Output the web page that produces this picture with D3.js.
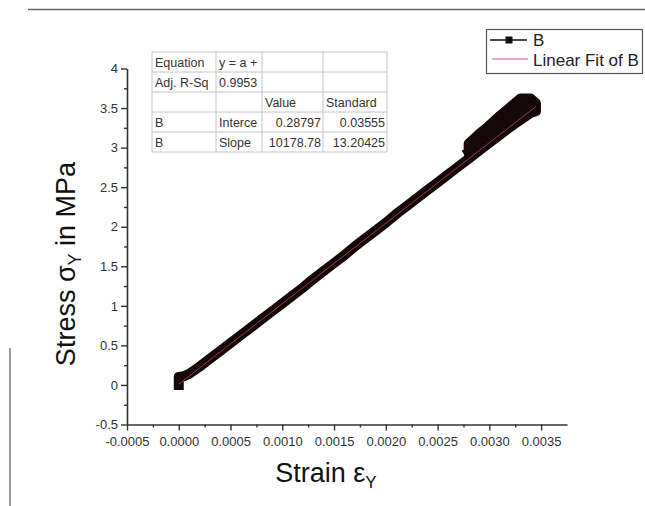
<!DOCTYPE html>
<html><head><meta charset="utf-8">
<script src="https://cdn.jsdelivr.net/npm/d3@7"></script>
<style>
html,body{margin:0;padding:0;background:#fff;}
svg{display:block;font-family:"Liberation Sans",Arial,sans-serif;}
</style></head>
<body><svg id="chart" width="645" height="506"></svg>
<script>
// ---- data ----
const strain = [0.0000,0.0000,0.00005,0.0001,0.0002,0.0003,0.0004,0.0005,0.0006,0.0007,0.0008,0.0009,0.0010,0.0011,0.0012,0.0013,0.0014,0.0015,0.0016,0.0017,0.0018,0.0019,0.0020,0.0021,0.0022,0.0023,0.0024,0.0025,0.0026,0.0027,0.0028,0.0029,0.0030,0.0031,0.0032,0.0033,0.0034,0.00345,0.00345,0.0034,0.0033,0.0032,0.0031,0.0030,0.0029,0.0028,0.0028,0.0029,0.0030,0.0031,0.0032,0.0033,0.0034,0.0033,0.0032,0.0031,0.0030,0.0029,0.0028];
const stress = [0.00,0.10,0.11,0.14,0.23,0.33,0.43,0.53,0.63,0.73,0.83,0.93,1.03,1.13,1.23,1.34,1.44,1.54,1.64,1.75,1.85,1.95,2.05,2.16,2.26,2.36,2.46,2.56,2.66,2.76,2.86,2.96,3.06,3.16,3.26,3.35,3.44,3.46,3.56,3.62,3.62,3.51,3.40,3.28,3.17,3.05,2.93,3.07,3.18,3.30,3.41,3.50,3.52,3.44,3.35,3.24,3.13,3.02,2.94];
const fitStrain = [0.0000, 0.00345];
const fitStress = [0.01, 3.52];
const xTicks = [-0.0005,0.0000,0.0005,0.0010,0.0015,0.0020,0.0025,0.0030,0.0035];
const xTickLabels = ["-0.0005","0.0000","0.0005","0.0010","0.0015","0.0020","0.0025","0.0030","0.0035"];
const yTicks = [-0.5,0,0.5,1,1.5,2,2.5,3,3.5,4];
const yTickLabels = ["-0.5","0","0.5","1","1.5","2","2.5","3","3.5","4"];
const tableRows = [
  ["Equation","y = a +","",""],
  ["Adj. R-Sq","0.9953","",""],
  ["","","Value","Standard"],
  ["B","Interce","0.28797","0.03555"],
  ["B","Slope","10178.78","13.20425"]
];
const legendLabels = ["B","Linear Fit of B"];

// ---- drawing ----
const svg = d3.select("#chart");
const x = d3.scaleLinear().domain([-0.0005,0.00375]).range([127,567]);
const y = d3.scaleLinear().domain([-0.5,4.0]).range([424.5,68.5]);

// decorative frame lines
svg.append("line").attr("x1",28).attr("x2",645).attr("y1",9.5).attr("y2",9.5).attr("stroke","#666").attr("stroke-width",1.5);
svg.append("line").attr("x1",10).attr("x2",10).attr("y1",348).attr("y2",506).attr("stroke","#777").attr("stroke-width",1.5);

// minor ticks
const xMinor = d3.range(0,17).map(i=>-0.0005+i*0.00025).filter(v=>!xTicks.some(t=>Math.abs(t-v)<1e-9));
const yMinor = d3.range(0,18).map(i=>-0.5+i*0.25).filter(v=>!yTicks.some(t=>Math.abs(t-v)<1e-9));

const xAxis = d3.axisBottom(x).tickValues(xTicks).tickFormat((d,i)=>xTickLabels[i]).tickSize(6).tickSizeOuter(0);
const yAxis = d3.axisLeft(y).tickValues(yTicks).tickFormat((d,i)=>yTickLabels[i]).tickSize(6).tickSizeOuter(0);

const gx = svg.append("g").attr("transform","translate(0,424.5)").call(xAxis);
const gy = svg.append("g").attr("transform","translate(127,0)").call(yAxis);
svg.append("g").attr("transform","translate(0,424.5)").call(d3.axisBottom(x).tickValues(xMinor).tickFormat("").tickSize(3).tickSizeOuter(0)).select(".domain").remove();
svg.append("g").attr("transform","translate(127,0)").call(d3.axisLeft(y).tickValues(yMinor).tickFormat("").tickSize(3).tickSizeOuter(0)).select(".domain").remove();

[gx,gy].forEach(g=>{
  g.select(".domain").attr("stroke","#333").attr("stroke-width",1.6);
  g.selectAll(".tick text").attr("fill","#333").style("font-size","13px").style("font-family","'Liberation Sans',Arial,sans-serif");
});
svg.selectAll("g .tick line").attr("stroke","#333").attr("stroke-width",1.4);
gx.selectAll(".tick text").attr("dy","0.95em");
gy.selectAll(".tick text").attr("x",-9);

// data band
const pts = strain.map((s,i)=>[x(s),y(stress[i])]);
svg.append("path").attr("d",d3.line()(pts)).attr("fill","none").attr("stroke","#140808").attr("stroke-width",10)
  .attr("stroke-linejoin","round").attr("stroke-linecap","square");
svg.append("g").selectAll("rect").data(pts).join("rect")
  .attr("x",d=>d[0]-3.5).attr("y",d=>d[1]-3.5).attr("width",7).attr("height",7).attr("fill","#140808");

// fit line
svg.append("line").attr("x1",x(fitStrain[0])).attr("y1",y(fitStress[0])).attr("x2",x(fitStrain[1])).attr("y2",y(fitStress[1]))
  .attr("stroke","#d05050").attr("stroke-width",1).attr("opacity",0.7);

// table
const colX = [152,216,262,323,387];
const rowY = [52,72,92,112,132,152];
const tg = svg.append("g");
tg.append("rect").attr("x",colX[0]).attr("y",rowY[0]).attr("width",colX[4]-colX[0]).attr("height",rowY[5]-rowY[0]).attr("fill","#fff");
rowY.forEach(v=>tg.append("line").attr("x1",colX[0]).attr("x2",colX[4]).attr("y1",v).attr("y2",v).attr("stroke","#c4c4c4"));
colX.forEach(v=>tg.append("line").attr("x1",v).attr("x2",v).attr("y1",rowY[0]).attr("y2",rowY[5]).attr("stroke","#c4c4c4"));
tableRows.forEach((row,ri)=>{
  row.forEach((txt,ci)=>{
    if(!txt) return;
    const right = ri>=3 && ci>=2;
    tg.append("text").attr("x", right ? colX[ci+1]-2 : colX[ci]+3).attr("y",rowY[ri]+15)
      .attr("text-anchor", right ? "end":"start").attr("fill","#333").style("font-size","12.5px").text(txt);
  });
});

// legend
const lg = svg.append("g");
lg.append("rect").attr("x",486.5).attr("y",29.5).attr("width",156).attr("height",44).attr("fill","#fff").attr("stroke","#555").attr("stroke-width",1.2);
lg.append("line").attr("x1",490).attr("x2",527).attr("y1",40).attr("y2",40).attr("stroke","#111").attr("stroke-width",1.3);
lg.append("rect").attr("x",505.5).attr("y",36.5).attr("width",7).attr("height",7).attr("fill","#111");
lg.append("line").attr("x1",492).attr("x2",528).attr("y1",59).attr("y2",59).attr("stroke","#f08a9a").attr("stroke-width",1.6);
lg.append("text").attr("x",533).attr("y",46).attr("fill","#222").style("font-size","17px").text(legendLabels[0]);
lg.append("text").attr("x",533).attr("y",66).attr("fill","#222").style("font-size","17px").text(legendLabels[1]);

// axis titles
const xt = svg.append("text").attr("x",326).attr("y",482).attr("text-anchor","middle").attr("fill","#111").style("font-size","27px");
xt.append("tspan").text("Strain ε");
xt.append("tspan").attr("dy",6).style("font-size","17px").text("Y");

const yt = svg.append("text").attr("transform","translate(75,264) rotate(-90)").attr("text-anchor","middle").attr("fill","#111").style("font-size","27px");
yt.append("tspan").text("Stress σ");
yt.append("tspan").attr("dy",6).style("font-size","18px").text("Y");
yt.append("tspan").attr("dy",-6).text(" in MPa");
</script></body></html>
